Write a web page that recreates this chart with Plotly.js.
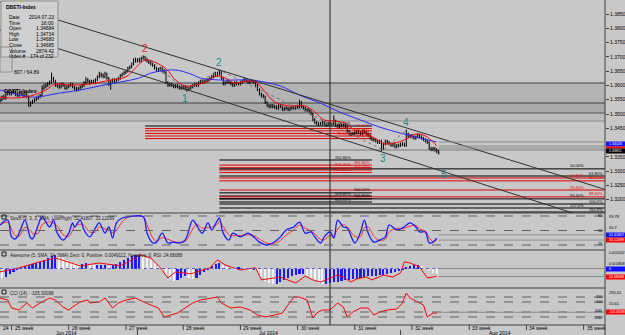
<!DOCTYPE html>
<html><head><meta charset="utf-8">
<script src="https://cdn.plot.ly/plotly-3.0.1.min.js"></script>
<style>html,body{margin:0;padding:0;background:#c8c8c8;}#chart{width:625px;height:335px;}</style>
</head><body><div id="chart"></div>
<script>
// ---------- DATA (EURUSD H4) ----------
const firstOpen = 1.3540;
const closes = [1.3545,
1.3550,1.3560,1.3555,1.3570,1.3575,1.3570, 1.3575,1.3580,1.3570,1.3565,1.3575,1.3570,
1.3565,1.3575,1.3560,1.3530,1.3540,1.3545, 1.3550,1.3555,1.3560,1.3565,1.3590,1.3595,
1.3600,1.3605,1.3610,1.3625,1.3615,1.3600, 1.3600,1.3595,1.3605,1.3600,1.3590,1.3595,
1.3600,1.3605,1.3595,1.3590,1.3585,1.3590, 1.3595,1.3600,1.3610,1.3620,1.3615,1.3610,
1.3615,1.3610,1.3620,1.3630,1.3640,1.3635, 1.3630,1.3640,1.3625,1.3605,1.3615,1.3620,
1.3615,1.3620,1.3625,1.3635,1.3640,1.3645, 1.3650,1.3660,1.3665,1.3675,1.3690,1.3685,
1.3690,1.3685,1.3695,1.3700,1.3690,1.3685, 1.3680,1.3675,1.3670,1.3660,1.3655,1.3655,
1.3660,1.3650,1.3645,1.3610,1.3600,1.3605, 1.3600,1.3595,1.3600,1.3595,1.3590,1.3595,
1.3590,1.3595,1.3585,1.3590,1.3595,1.3600, 1.3605,1.3600,1.3610,1.3615,1.3610,1.3615,
1.3615,1.3620,1.3625,1.3630,1.3640,1.3635, 1.3640,1.3645,1.3625,1.3605,1.3610,1.3615,
1.3610,1.3605,1.3600,1.3610,1.3605,1.3605, 1.3610,1.3615,1.3620,1.3615,1.3610,1.3615,
1.3615,1.3610,1.3600,1.3585,1.3570,1.3565, 1.3560,1.3540,1.3530,1.3525,1.3530,1.3525,
1.3525,1.3520,1.3530,1.3525,1.3515,1.3520, 1.3520,1.3515,1.3520,1.3525,1.3520,1.3525,
1.3525,1.3540,1.3525,1.3520,1.3515,1.3515, 1.3510,1.3500,1.3480,1.3470,1.3465,1.3465,
1.3465,1.3470,1.3465,1.3460,1.3468,1.3465, 1.3465,1.3475,1.3460,1.3455,1.3460,1.3460,
1.3460,1.3455,1.3440,1.3430,1.3430,1.3430, 1.3435,1.3440,1.3435,1.3430,1.3440,1.3435,
1.3430,1.3425,1.3415,1.3410,1.3410,1.3405, 1.3400,1.3405,1.3380,1.3395,1.3405,1.3400,
1.3395,1.3390,1.3395,1.3385,1.3390,1.3390, 1.3395,1.3395,1.3390,1.3430,1.3420,1.3425,
1.3420,1.3415,1.3420,1.3425,1.3420,1.3415, 1.3410,1.3405,1.3400,1.3380,1.3375,1.3380,
1.3375,1.3370,1.3365];
const highs = [1.3550,
1.3555,1.3565,1.3568,1.3575,1.3582,1.3580, 1.3580,1.3585,1.3583,1.3575,1.3578,1.3580,
1.3575,1.3580,1.3578,1.3565,1.3545,1.3550, 1.3555,1.3560,1.3565,1.3570,1.3600,1.3605,
1.3608,1.3612,1.3618,1.3645,1.3630,1.3620, 1.3607,1.3605,1.3610,1.3610,1.3605,1.3600,
1.3605,1.3610,1.3608,1.3600,1.3595,1.3595, 1.3600,1.3605,1.3615,1.3630,1.3625,1.3620,
1.3620,1.3620,1.3625,1.3635,1.3648,1.3645, 1.3642,1.3648,1.3645,1.3630,1.3620,1.3625,
1.3625,1.3625,1.3630,1.3640,1.3645,1.3650, 1.3655,1.3665,1.3670,1.3680,1.3695,1.3697,
1.3695,1.3697,1.3700,1.3705,1.3703,1.3695, 1.3690,1.3688,1.3680,1.3675,1.3665,1.3662,
1.3665,1.3665,1.3658,1.3650,1.3615,1.3610, 1.3610,1.3605,1.3605,1.3605,1.3600,1.3600,
1.3600,1.3600,1.3598,1.3595,1.3600,1.3605, 1.3610,1.3610,1.3615,1.3620,1.3620,1.3620,
1.3622,1.3625,1.3630,1.3637,1.3645,1.3648, 1.3648,1.3655,1.3650,1.3630,1.3615,1.3620,
1.3620,1.3615,1.3610,1.3615,1.3615,1.3612, 1.3615,1.3620,1.3628,1.3625,1.3620,1.3620,
1.3622,1.3620,1.3615,1.3605,1.3590,1.3575, 1.3570,1.3565,1.3545,1.3535,1.3535,1.3535,
1.3532,1.3530,1.3535,1.3535,1.3530,1.3525, 1.3527,1.3525,1.3525,1.3530,1.3530,1.3530,
1.3532,1.3550,1.3545,1.3530,1.3525,1.3520, 1.3520,1.3515,1.3505,1.3485,1.3475,1.3472,
1.3472,1.3478,1.3475,1.3470,1.3473,1.3472, 1.3470,1.3495,1.3480,1.3465,1.3465,1.3467,
1.3467,1.3465,1.3460,1.3445,1.3437,1.3437, 1.3440,1.3445,1.3445,1.3440,1.3445,1.3445,
1.3440,1.3435,1.3430,1.3420,1.3417,1.3415, 1.3410,1.3410,1.3410,1.3400,1.3410,1.3410,
1.3405,1.3400,1.3400,1.3400,1.3395,1.3397, 1.3400,1.3402,1.3400,1.3445,1.3435,1.3430,
1.3430,1.3425,1.3425,1.3432,1.3430,1.3425, 1.3420,1.3415,1.3410,1.3405,1.3385,1.3385,
1.3385,1.3380,1.3375];
const lows = [1.3535,
1.3540,1.3545,1.3550,1.3550,1.3565,1.3565, 1.3565,1.3570,1.3562,1.3560,1.3560,1.3565,
1.3560,1.3560,1.3555,1.3525,1.3525,1.3535, 1.3540,1.3545,1.3550,1.3555,1.3560,1.3585,
1.3590,1.3595,1.3600,1.3605,1.3610,1.3595, 1.3592,1.3588,1.3590,1.3595,1.3585,1.3585,
1.3590,1.3595,1.3590,1.3583,1.3578,1.3580, 1.3585,1.3590,1.3595,1.3605,1.3608,1.3603,
1.3605,1.3605,1.3605,1.3615,1.3625,1.3628, 1.3625,1.3625,1.3620,1.3598,1.3585,1.3610,
1.3608,1.3610,1.3615,1.3620,1.3630,1.3635, 1.3640,1.3645,1.3655,1.3660,1.3670,1.3680,
1.3680,1.3680,1.3682,1.3690,1.3685,1.3680, 1.3675,1.3670,1.3665,1.3655,1.3648,1.3650,
1.3650,1.3645,1.3640,1.3605,1.3595,1.3595, 1.3595,1.3590,1.3590,1.3590,1.3585,1.3585,
1.3585,1.3583,1.3578,1.3580,1.3585,1.3590, 1.3595,1.3595,1.3595,1.3605,1.3605,1.3605,
1.3610,1.3610,1.3615,1.3620,1.3625,1.3630, 1.3630,1.3635,1.3620,1.3600,1.3600,1.3605,
1.3605,1.3600,1.3595,1.3595,1.3600,1.3600, 1.3600,1.3605,1.3610,1.3610,1.3605,1.3605,
1.3608,1.3605,1.3595,1.3580,1.3565,1.3558, 1.3555,1.3535,1.3525,1.3520,1.3520,1.3520,
1.3518,1.3515,1.3515,1.3520,1.3510,1.3510, 1.3513,1.3510,1.3510,1.3515,1.3515,1.3515,
1.3518,1.3520,1.3520,1.3515,1.3510,1.3508, 1.3505,1.3495,1.3475,1.3465,1.3460,1.3458,
1.3460,1.3460,1.3460,1.3455,1.3458,1.3460, 1.3458,1.3460,1.3455,1.3450,1.3450,1.3453,
1.3453,1.3450,1.3435,1.3425,1.3423,1.3425, 1.3425,1.3430,1.3430,1.3425,1.3425,1.3430,
1.3425,1.3420,1.3410,1.3405,1.3403,1.3400, 1.3395,1.3395,1.3370,1.3375,1.3390,1.3395,
1.3390,1.3385,1.3385,1.3380,1.3380,1.3383, 1.3385,1.3388,1.3385,1.3385,1.3415,1.3415,
1.3415,1.3410,1.3410,1.3415,1.3415,1.3410, 1.3405,1.3400,1.3395,1.3375,1.3370,1.3370,
1.3368,1.3362,1.3358];

// moving averages (bar index, price)
const blueIdx = [1,11,19,32,43,53,64,74,80,85,93,101,106,116,132,137,148,158,169,179,190,200,211,221,230];
const blueVal = [1.3584,1.3567,1.3559,1.3573,1.3584,1.3598,1.3612,1.3626,1.3643,1.3650,1.3654,1.3640,1.3626,1.3619,1.3619,1.3615,1.3598,1.3566,1.3538,1.3507,1.3479,1.3454,1.3433,1.3416,1.3402];
const redIdx = [1,9,17,25,30,38,48,59,67,72,77,82,88,93,98,103,109,114,119,124,130,135,140,145,153,161,166,171,177,182,187,192,198,203,208,213,219,224,228,230];
const redVal = [1.3559,1.3556,1.3563,1.3584,1.3605,1.3601,1.3605,1.3619,1.3630,1.3661,1.3689,1.3682,1.3658,1.3619,1.3598,1.3601,1.3612,1.3633,1.3626,1.3608,1.3615,1.3612,1.3577,1.3542,1.3528,1.3528,1.3507,1.3479,1.3475,1.3468,1.3444,1.3434,1.3413,1.3395,1.3399,1.3409,1.3430,1.3423,1.3402,1.3388];

// wave points
const waveIdx = [77,98,116,202,214];
const wavePrice = [1.3703,1.3584,1.3654,1.3374,1.3444];
const waveLabels = ['2','1','2','3','4'];
const waveColors = ['#e8201a','#1a8a8a','#1a8a8a','#1a8a8a','#1a8a8a'];

// price axis ticks
const priceTicks = [1.3200,1.3250,1.3300,1.3350,1.3450,1.3500,1.3550,1.3600,1.3650,1.3700,1.3750,1.3800,1.3850];

// horizontal zones and lines
const zoneBands = [[1.35385,1.36085,'#b4b4b4'],[1.35035,1.35385,'#a9a9a9'],[1.34755,1.35035,'#bdbdbd']];
const hLines = [[1.36085,'#404040'],[1.35385,'#404040'],[1.35035,'#555555'],[1.34755,'#8a8a8a'],[1.3374,'#7a7a7a']];

// fibonacci groups: [price, color, label]
const fibA = [[1.3458,'#000000','38.20%'],[1.3449,'#e00000','50.00%'],[1.3441,'#e00000','61.80%'],[1.3432,'#e00000','76.40%'],[1.3423,'#e00000','78.60%'],[1.3414,'#e00000','88.60%']];
const fibB = [[1.3339,'#000000','261.80%'],[1.3321,'#e00000','361.80%'],[1.3312,'#e00000','376.40%'],[1.3304,'#e00000','400.00%'],[1.3295,'#e00000','423.60%'],[1.3224,'#000000','500.00%'],[1.3213,'#000000','523.60%'],[1.3203,'#000000','561.80%'],[1.3192,'#000000','600.00%']];
const fibC = [[1.3308,'#000000','50.00%'],[1.3283,'#000000','61.80%'],[1.3276,'#e00000','61.80%'],[1.3266,'#e00000','66.70%'],[1.3234,'#e00000','76.40%'],[1.3210,'#e00000','88.40%'],[1.3203,'#000000','93.40%'],[1.3185,'#000000','100.0%'],[1.3171,'#000000','127.0%'],[1.3157,'#000000','161.8%']];

// stochastic (bar index, %K, %D)
const stIdx = [1,5,7,9,11,14,17,18,21,23,27,29,31,34,37,39,40,43,45,48,51,53,56,58,60,62,65,68,76,78,81,83,86,89,92,95,98,102,104,107,110,112,115,116,118,121,123,127,131,134,137,141,144,148,151,155,158,161,164,166,169,171,174,176,178,181,183,187,190,192,194,197,200,203,205,209,212,216,219,221,224,226,228,230];
const stK = [69,86,28,21,41,86,24,21,69,97,62,86,41,17,41,76,62,86,52,28,59,76,41,62,24,76,93,97,97,41,7,10,41,7,10,7,17,86,69,41,76,52,86,93,41,17,41,28,41,28,10,0,7,28,52,62,79,41,45,28,7,28,45,24,86,62,59,7,45,86,41,10,17,28,69,52,59,76,62,45,45,7,10,24];
const stD = [70,78,55,32,30,60,50,40,40,70,80,75,65,35,30,50,62,72,68,45,45,62,55,52,42,50,80,95,97,70,25,12,25,20,12,9,12,55,72,58,60,62,72,82,65,35,32,33,35,33,20,6,5,15,35,52,68,58,48,38,20,18,33,32,55,70,62,30,28,60,62,30,15,20,45,58,56,65,68,55,48,25,12,18];

// awesome oscillator (every second bar)
const aoIdx = Array.from({length:116},(_,k)=>k*2);
const aoVal = [-0.0028,-0.00315,-0.0028,-0.00175,-0.00105,-0.00035,0.00035,0.0007,0.00105,0.0014,0.00175,0.0021,0.0028,0.0035,0.0042,0.00455,0.0042,0.0035,0.0028,0.0021,0.00175,0.0014,0.0014,0.00175,0.0014,0.00105,0.00105,0.00105,0.00105,0.0007,0.00105,0.0014,0.0021,0.0028,0.0035,0.0042,0.00455,0.00455,0.0042,0.0035,0.0028,0.00175,0.0007,-0.0007,-0.0021,-0.0035,-0.0042,-0.00385,-0.00315,-0.00245,-0.00315,-0.0035,-0.00315,-0.0021,-0.00105,-0.00035,0.0007,0.0014,0.00175,0.00105,0.00035,0,-0.00035,0.00035,0,-0.00035,-0.0007,-0.00035,-0.0014,-0.0028,-0.0042,-0.0049,-0.00525,-0.00525,-0.00455,-0.00385,-0.00315,-0.00245,-0.0021,-0.00175,-0.00175,-0.00245,-0.0035,-0.0042,-0.0049,-0.00525,-0.00525,-0.0049,-0.00455,-0.00455,-0.0042,-0.00385,-0.00385,-0.0035,-0.0035,-0.00315,-0.0028,-0.00245,-0.00245,-0.00245,-0.0021,-0.0021,-0.00175,-0.0014,-0.00105,-0.0007,-0.00035,0.00035,0.0007,0.00105,0.00105,0.0007,0,-0.0007,-0.0014,-0.00175];
// red line of the awesome window
const rlIdx = [1,11,22,30,43,53,64,72,74,80,85,89,93,101,111,115,119,127,135,138,148,156,161,165,169,174,178,181,185,188,193,196,202,207,211,213,216,221,225,228,230];
const rlVal = [39,52,71,83,58,67,58,83,93,83,52,20,39,33,52,77,61,45,52,14,23,4,26,14,7,20,29,23,7,17,23,14,29,23,36,71,67,55,20,23,26];

// CCI
const cciIdx = [1,5,7,11,15,18,22,25,27,30,34,37,39,43,47,48,53,56,60,63,67,72,74,80,84,87,90,94,98,102,106,111,115,117,122,127,132,136,140,145,149,155,158,162,165,167,170,174,177,178,181,183,186,190,194,197,200,204,209,212,214,216,220,223,225,228,230];
const cciVal = [180,140,-20,-60,80,-20,80,140,180,140,0,-60,0,100,140,80,100,180,-20,80,140,180,140,40,-20,-200,-160,-120,-20,80,140,180,200,80,-20,0,-60,-160,-200,-160,-120,200,200,140,-220,-120,-60,-60,40,80,0,-200,-100,-20,-20,-160,-100,-60,-40,80,280,180,100,40,-200,-120,-120];

// time axis
const weekIdx = [-5,7,37,67,97,127,157,187,217,247,277,307];
const weekText = ['24','25 week','26 week','27 week','28 week','29 week','30 week','31 week','32 week','33 week','34 week','35 week'];
const monthSepIdx = [73,211];
const monthIdx = [36,142,263];
const monthText = ['Jun 2014','Jul 2014','Aug 2014'];
const crossIdx = 174;

// data window
const dwTitle = 'DBETI-Index';
const dwKeys = ['Date','Time','Open','High','Low','Close','Volume','Index #'];
const dwVals = ['2014.07.23','16:00','1.34684','1.34734','1.34680','1.34685','2874.42','174 of 232'];

// value boxes at the right scale: [axis, value of the line, text, box colour, box top px, box bottom px]
const valueBoxes = [['y',1.3402,'1.34026','#1010ff',141.5,146.5],['y',1.3388,'','#ff0000',146.5,148.5],['y',1.3381,'1.33811','#000000',148.5,153.5],
  ['y2',35,'52.41807','#1010ff',232.5,237.5],['y2',17,'33.12099','#ff0000',237.5,242.5],
  ['y3',0,'0','#1010ff',266.5,271.5],['y5',24.68,'24.68088','#ff0000',274.5,279.5],
  ['y4',-105,'-105.30098','#ff0000',309.5,314.5]];
// scale labels of the sub windows: [px y, text]
const scaleLabels = [[216,'93.78'],[227,'50.7'],[253,'0.0052042'],[264,'0.0014808'],[292,'290.01'],[303,'15.61']];
// level labels left of the scale: [px y, text]
const levelLabels = [[216,'80'],[231,'50'],[244,'20'],[297,'200'],[302,'100'],[311,'-100'],[318,'-200']];
const headers = [[214,'Stoch (5, 3, 3, SMA, Low/High)  52.41807  33.12099'],[251,'Awesome (5, SMA, 34, SMA) Zero: 0, Positive: 0.0049112, Negative: 0, RSI: 24.68088'],[289,'CCI (14) : -105.30098']];

// ---------- BUILD ----------
const idx = closes.map((_, i) => i);
const opens = closes.map((c, i) => i === 0 ? firstOpen : closes[i - 1]);
const XR = [0.944, 318.2];
const F = 'Liberation Sans, Arial, sans-serif';
const PX = 605, PY = 325;                 // plot area size in px
const px2x = v => v / PX, py2y = v => (PY - v) / PY;
const i2x = i => Math.max(0, (i - XR[0]) / (XR[1] - XR[0]));
const dMain = [py2y(213), 1], dSt = [py2y(250), py2y(213)], dAo = [py2y(288), py2y(250)], dCci = [0, py2y(288)];

const traces = [];
traces.push({type:'ohlc', x: idx, open: opens, high: highs, low: lows, close: closes,
  xaxis:'x', yaxis:'y', tickwidth:0.25,
  increasing:{line:{color:'#000000', width:1}}, decreasing:{line:{color:'#000000', width:1}},
  hoverinfo:'skip', showlegend:false});
traces.push({type:'scatter', mode:'lines', x: blueIdx, y: blueVal, line:{color:'#2a2aff', width:1, shape:'spline'}, xaxis:'x', yaxis:'y', showlegend:false, hoverinfo:'skip'});
traces.push({type:'scatter', mode:'lines', x: redIdx, y: redVal, line:{color:'#ff0000', width:1, shape:'spline'}, xaxis:'x', yaxis:'y', showlegend:false, hoverinfo:'skip'});
traces.push({type:'scatter', mode:'lines', x: waveIdx, y: wavePrice, line:{color:'#707070', width:1, dash:'dot'}, xaxis:'x', yaxis:'y', showlegend:false, hoverinfo:'skip'});
traces.push({type:'scatter', mode:'lines', x: stIdx, y: stD, line:{color:'#ff3030', width:1, shape:'spline'}, xaxis:'x', yaxis:'y2', showlegend:false, hoverinfo:'skip'});
traces.push({type:'scatter', mode:'lines', x: stIdx, y: stK, line:{color:'#1a1aff', width:1.3, shape:'spline'}, xaxis:'x', yaxis:'y2', showlegend:false, hoverinfo:'skip'});
const aoColors = aoVal.map((v, k) => (k === 0 || v >= aoVal[k - 1]) ? '#1a1aff' : '#f4f4f4');
traces.push({type:'bar', x: aoIdx, y: aoVal, width: 1.1, marker:{color: aoColors, line:{width:0}}, xaxis:'x', yaxis:'y3', showlegend:false, hoverinfo:'skip'});
traces.push({type:'scatter', mode:'lines', x: rlIdx, y: rlVal, line:{color:'#ff0000', width:1}, xaxis:'x', yaxis:'y5', showlegend:false, hoverinfo:'skip'});
traces.push({type:'scatter', mode:'lines', x: cciIdx, y: cciVal, line:{color:'#ff0000', width:1}, xaxis:'x', yaxis:'y4', showlegend:false, hoverinfo:'skip'});

const shapes = [];
const ann = [];
const small = (c, s) => ({family:F, size:s || 5, color:c || '#000'});
zoneBands.forEach(b => shapes.push({type:'rect', xref:'paper', yref:'y', x0:0, x1:1, y0:b[0], y1:b[1], fillcolor:b[2], line:{width:0}, layer:'below'}));
hLines.forEach(h => shapes.push({type:'line', xref:'paper', yref:'y', x0:0, x1:1, y0:h[0], y1:h[0], line:{color:h[1], width:1}, layer:'below'}));
fibA.forEach((f, k) => { shapes.push({type:'line', xref:'x', yref:'y', x0:77, x1:196, y0:f[0], y1:f[0], line:{color:f[1], width:1}, layer:'below'});
  ann.push({xref:'x', yref:'y', x: k % 2 ? 196 : 186, y:f[0], text:f[2], showarrow:false, xanchor:'right', yanchor:'bottom', font:small(f[1], 4), yshift:-1.5}); });
fibB.forEach((f, k) => { shapes.push({type:'line', xref:'x', yref:'y', x0:116, x1:196, y0:f[0], y1:f[0], line:{color:f[1], width:1}, layer:'below'});
  ann.push({xref:'x', yref:'y', x: k % 2 ? 196 : 186, y:f[0], text:f[2], showarrow:false, xanchor:'right', yanchor:'bottom', font:small(f[1], 4), yshift:-1.5}); });
fibC.forEach((f, k) => { shapes.push({type:'line', xref:'x', yref:'y', x0:116, x1:318.2, y0:f[0], y1:f[0], line:{color:f[1], width:1}, layer:'below'});
  ann.push({xref:'x', yref:'y', x: k % 2 ? 318 : 308, y:f[0], text:f[2], showarrow:false, xanchor:'right', yanchor:'bottom', font:small(f[1], 4), yshift:-1.5}); });
shapes.push({type:'line', xref:'x', yref:'y', x0:0.944, y0:1.3892, x1:319.2, y1:1.3234, line:{color:'#303030', width:1}});
shapes.push({type:'line', xref:'x', yref:'y', x0:0.944, y0:1.3794, x1:301.4, y1:1.31535, line:{color:'#303030', width:1}});
shapes.push({type:'line', xref:'x', yref:'paper', x0:crossIdx, x1:crossIdx, y0:0, y1:1, line:{color:'#202020', width:1}});
[dMain[0], dSt[0], dAo[0], 0].forEach(p => shapes.push({type:'line', xref:'paper', yref:'paper', x0:0, x1:1, y0:p, y1:p, line:{color:'#404040', width:1}}));
shapes.push({type:'line', xref:'paper', yref:'paper', x0:1, x1:1, y0:py2y(335), y1:1, line:{color:'#404040', width:1}});
[100, 50, 0].forEach(v => shapes.push({type:'line', xref:'paper', yref:'y2', x0:0, x1:1, y0:v, y1:v, line:{color:'#606060', width:1, dash:'dash'}}));
shapes.push({type:'line', xref:'paper', yref:'y3', x0:0, x1:1, y0:0, y1:0, line:{color:'#6060d0', width:1, dash:'dot'}});
[200, 100, -100, -200].forEach(v => shapes.push({type:'line', xref:'paper', yref:'y4', x0:0, x1:1, y0:v, y1:v, line:{color:'#606060', width:1, dash:'dash'}}));
valueBoxes.forEach(b => {
  shapes.push({type:'line', xref:'x', yref:b[0], x0:231, x1:318.2, y0:b[1], y1:b[1], line:{color:'#8c8c8c', width:1}});
  shapes.push({type:'rect', xref:'paper', yref:'paper', x0:px2x(606), x1:px2x(625), y0:py2y(b[5]), y1:py2y(b[4]), fillcolor:b[3], line:{width:0}});
  if (b[2]) ann.push({xref:'paper', yref:'paper', x:px2x(606.5), y:py2y((b[4] + b[5]) / 2), text:b[2], showarrow:false, xanchor:'left', yanchor:'middle', font:small('#ffffff', b[2].length > 8 ? 3.1 : 3.6)});
});
// time axis (paper coordinates so the first, partly hidden week still shows)
weekIdx.forEach((w, k) => {
  const xp = i2x(w);
  if (w >= XR[0]) shapes.push({type:'line', xref:'paper', yref:'paper', x0:xp, x1:xp, y0:0, y1:py2y(330), line:{color:'#404040', width:1}});
  ann.push({xref:'paper', yref:'paper', x:xp, y:py2y(328), text:weekText[k], showarrow:false, xanchor:'left', yanchor:'middle', xshift:1, font:small()});
});
monthSepIdx.forEach(m => shapes.push({type:'line', xref:'x', yref:'paper', x0:m, x1:m, y0:py2y(330), y1:py2y(335), line:{color:'#404040', width:1}}));
monthIdx.forEach((m, k) => ann.push({xref:'x', yref:'paper', x:m, y:py2y(333), text:monthText[k], showarrow:false, xanchor:'center', yanchor:'middle', font:small()}));
waveIdx.forEach((w, k) => ann.push({xref:'x', yref:'y', x:w, y:wavePrice[k], text:waveLabels[k], showarrow:false,
  yshift: (k === 1 || k === 3) ? -8 : 8, font:{family:F, size:10, color:waveColors[k]}}));
ann.push({xref:'x', yref:'y', x:234, y:1.3290, text:'5', showarrow:false, font:{family:F, size:10, color:'#1a8a8a'}});
// data window
shapes.push({type:'rect', xref:'paper', yref:'paper', x0:px2x(1), x1:px2x(58), y0:py2y(57), y1:py2y(1), fillcolor:'#d0d0d0', line:{color:'#909090', width:1}});
ann.push({xref:'paper', yref:'paper', x:px2x(4), y:py2y(2), text:'<b>'+dwTitle+'</b>', showarrow:false, xanchor:'left', yanchor:'top', font:small()});
dwKeys.forEach((k, j) => {
  const yy = py2y(12 + j * 5.6);
  ann.push({xref:'paper', yref:'paper', x:px2x(7), y:yy, text:k, showarrow:false, xanchor:'left', yanchor:'top', font:small()});
  ann.push({xref:'paper', yref:'paper', x:px2x(56), y:yy, text:dwVals[j], showarrow:false, xanchor:'right', yanchor:'top', font:small()});
});
shapes.push({type:'rect', xref:'paper', yref:'paper', x0:0, x1:px2x(12), y0:py2y(72), y1:py2y(47), line:{color:'#909090', width:1}});
ann.push({xref:'paper', yref:'paper', x:px2x(12), y:py2y(72), text:'807 / 64.89', showarrow:false, xanchor:'left', yanchor:'middle', font:small()});
ann.push({xref:'paper', yref:'paper', x:px2x(2), y:py2y(91.5), text:'<b>'+dwTitle+'</b>', showarrow:false, xanchor:'left', yanchor:'middle', font:small('#000', 5.5)});
scaleLabels.forEach(s => ann.push({xref:'paper', yref:'paper', x:px2x(606.5), y:py2y(s[0]), text:s[1], showarrow:false, xanchor:'left', yanchor:'middle', font:small('#000', s[1].length > 6 ? 3.3 : 4)}));
levelLabels.forEach(s => ann.push({xref:'paper', yref:'paper', x:px2x(604), y:py2y(s[0]), text:s[1], showarrow:false, xanchor:'right', yanchor:'middle', font:small('#000', 3.8)}));
headers.forEach(h => {
  ann.push({xref:'paper', yref:'paper', x:px2x(8), y:py2y(h[0]), text:h[1], showarrow:false, xanchor:'left', yanchor:'top', font:small('#202020', 4.5)});
  shapes.push({type:'rect', xref:'paper', yref:'paper', x0:px2x(2), x1:px2x(6), y0:py2y(h[0] + 5), y1:py2y(h[0] + 1), line:{color:'#202020', width:1}});
});

const layout = {
  width:625, height:335, margin:{l:0, r:20, t:0, b:10},
  paper_bgcolor:'#c8c8c8', plot_bgcolor:'#c8c8c8', showlegend:false, bargap:0,
  xaxis:{range:XR, showgrid:false, zeroline:false, showticklabels:false, ticks:'', fixedrange:true, showline:false, rangeslider:{visible:false}},
  yaxis:{domain:dMain, range:[1.31535, 1.3899], side:'right', showgrid:false, zeroline:false, tickvals:priceTicks, ticktext:priceTicks.map(v=>v.toFixed(4)), ticks:'outside', ticklen:3, tickcolor:'#404040', tickfont:{family:F, size:5, color:'#000'}},
  yaxis2:{domain:dSt, range:[-17.2, 110.3], showgrid:false, zeroline:false, showticklabels:false},
  yaxis3:{domain:dAo, range:[-0.00677, 0.00642], showgrid:false, zeroline:false, showticklabels:false},
  yaxis4:{domain:dCci, range:[-360, 380], showgrid:false, zeroline:false, showticklabels:false},
  yaxis5:{domain:dAo, range:[-11.6, 108], overlaying:'y3', showgrid:false, zeroline:false, showticklabels:false},
  shapes: shapes, annotations: ann
};
Plotly.newPlot('chart', traces, layout, {staticPlot:true, displayModeBar:false});
</script></body></html>
